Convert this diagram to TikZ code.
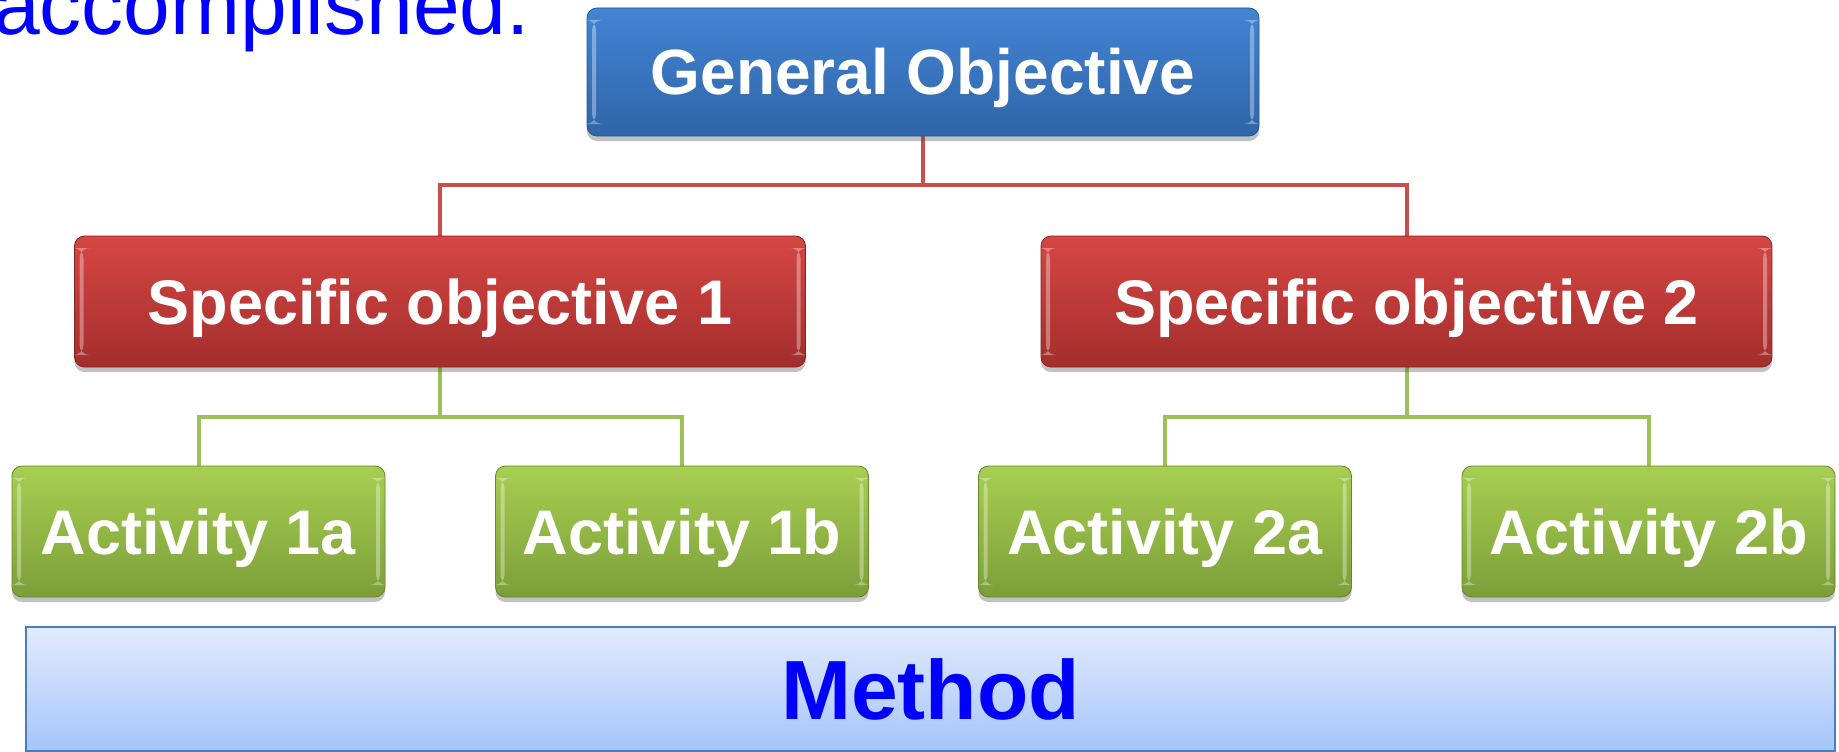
\documentclass[tikz,border=0pt]{standalone}
\usepackage{fontspec}
\setmainfont{Liberation Sans}
\usetikzlibrary{shadows,backgrounds}
\definecolor{blueTop}{HTML}{4384D4}
\definecolor{blueBot}{HTML}{2F65A8}
\definecolor{blueEdge}{HTML}{2A5790}
\definecolor{redTop}{HTML}{D64644}
\definecolor{redBot}{HTML}{A32E2C}
\definecolor{redEdge}{HTML}{852321}
\definecolor{grnTop}{HTML}{A7CF51}
\definecolor{grnBot}{HTML}{7C9E39}
\definecolor{grnEdge}{HTML}{66852C}
\definecolor{redLine}{HTML}{C94F4C}
\definecolor{grnLine}{HTML}{9DC15A}
\definecolor{methTop}{HTML}{E2EBFD}
\definecolor{methBot}{HTML}{A5C4FA}
\definecolor{methEdge}{HTML}{4A7EBB}
\begin{document}
\begin{tikzpicture}[x=1pt,y=-1pt,
  gloss/.style={path picture={
    \fill[white,opacity=0.35] ([xshift=5pt,yshift=-12pt]path picture bounding box.north west) rectangle ([xshift=9pt,yshift=12pt]path picture bounding box.south west);
    \fill[white,opacity=0.35] ([xshift=-9pt,yshift=-12pt]path picture bounding box.north east) rectangle ([xshift=-5pt,yshift=12pt]path picture bounding box.south east);}},
  box/.style={rounded corners=10pt, draw, line width=0.8pt, text=white,
    font=\fontsize{64}{64}\selectfont\bfseries, inner sep=0pt,
    text height=46pt, text depth=0pt,
    drop shadow={shadow xshift=0pt,shadow yshift=-5pt,opacity=0.35,fill=black!70}, gloss},
  gobox/.style={box, top color=blueTop, bottom color=blueBot, draw=blueEdge, minimum width=672pt, minimum height=128pt},
  sobox/.style={box, top color=redTop, bottom color=redBot, draw=redEdge, minimum width=731pt, minimum height=131pt, font=\fontsize{63}{63}\selectfont\bfseries},
  actbox/.style={box, top color=grnTop, bottom color=grnBot, draw=grnEdge, minimum width=373pt, minimum height=131pt, font=\fontsize{63}{63}\selectfont\bfseries},
  methbox/.style={draw=methEdge, line width=2pt, top color=methTop, bottom color=methBot, minimum width=1809pt, minimum height=124pt, inner sep=0pt,
    text=blue, font=\fontsize{84}{84}\selectfont\bfseries, text height=60pt, text depth=0pt},
  redconn/.style={draw=redLine, line width=4pt},
  grnconn/.style={draw=grnLine, line width=4pt}
]
\useasboundingbox (0,0) rectangle (1839,752);
\node[anchor=base west, inner sep=0pt, text=blue, font=\fontsize{84}{84}\selectfont] (acc) at (-7,35) {accomplished.};

\node[gobox] (go) at (923,72) {General Objective};
\node[sobox] (so1) at (440,301.5) {Specific objective 1};
\node[sobox] (so2) at (1406.5,301.5) {Specific objective 2};
\node[actbox] (a1a) at (198.5,531.5) {Activity 1a};
\node[actbox] (a1b) at (682,531.5) {Activity 1b};
\node[actbox] (a2a) at (1165,531.5) {Activity 2a};
\node[actbox] (a2b) at (1648.5,531.5) {Activity 2b};
\node[methbox] (meth) at (930.5,689) {Method};

\begin{scope}[on background layer]
\draw[redconn] (go.south) -- ++(0,49) -| (so1.north);
\draw[redconn] (go.south) -- ++(0,49) -| (so2.north);
\draw[grnconn] (so1.south) -- ++(0,50) -| (a1a.north);
\draw[grnconn] (so1.south) -- ++(0,50) -| (a1b.north);
\draw[grnconn] (so2.south) -- ++(0,50) -| (a2a.north);
\draw[grnconn] (so2.south) -- ++(0,50) -| (a2b.north);
\end{scope}
\end{tikzpicture}
\end{document}
